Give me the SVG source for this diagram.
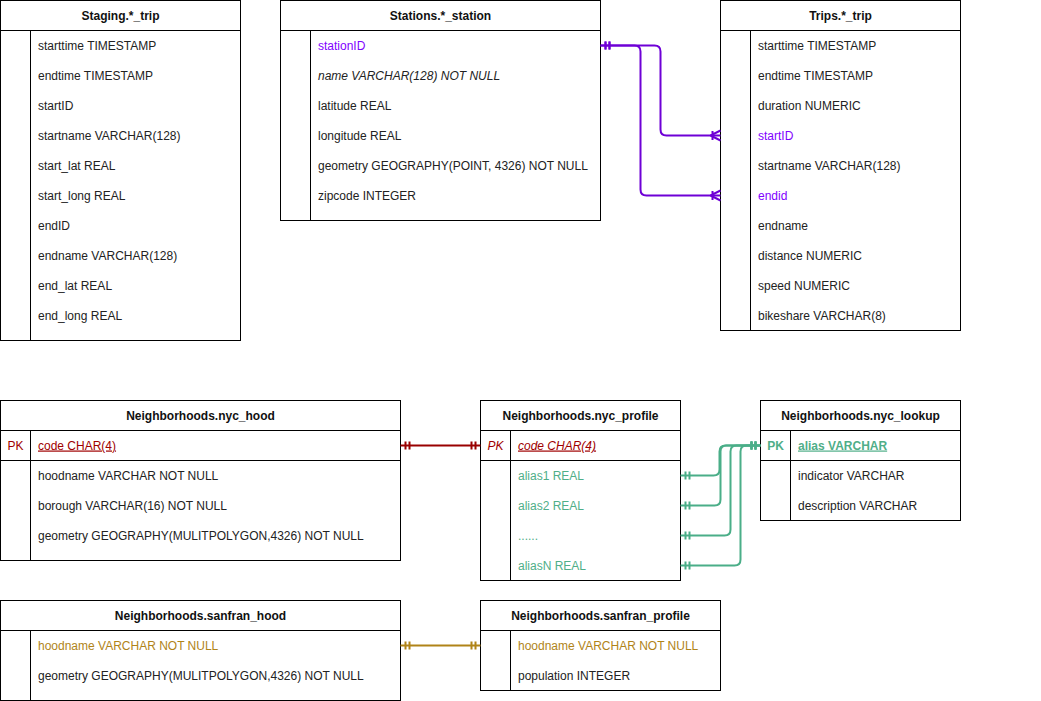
<svg xmlns="http://www.w3.org/2000/svg" width="1041" height="701" viewBox="0 0 1041 701">
<style>
.box{fill:#fff;stroke:#000;stroke-width:1}
.ln{stroke:#000;stroke-width:1;fill:none}
text{font-family:"Liberation Sans",Arial,sans-serif;font-size:12px;fill:#222}
.h{font-weight:bold;text-anchor:middle;fill:#111}
.it{font-style:italic}
.u{text-decoration:underline}
.b{font-weight:bold}
.c{text-anchor:middle}
.pu{fill:#7F00FF}
.rd{fill:#A00000}
.gr{fill:#4FAE88}
.gd{fill:#B08418}
.con{fill:none;stroke-width:2}
</style>
<defs>
<marker id="oneP" markerUnits="userSpaceOnUse" viewBox="-12 -6 14 12" refX="0" refY="0" markerWidth="14" markerHeight="12" orient="auto-start-reverse" overflow="visible"><path d="M-5,-4V4M-9,-4V4" stroke="#6E00D6" stroke-width="2" fill="none"/></marker>
<marker id="manyP" markerUnits="userSpaceOnUse" viewBox="-12 -6 14 12" refX="0" refY="0" markerWidth="14" markerHeight="12" orient="auto" overflow="visible"><path d="M-8,-4.5V4.5M-10,0L0,-5M-10,0L0,5" stroke="#6E00D6" stroke-width="2" fill="none"/></marker>
<marker id="oneR" markerUnits="userSpaceOnUse" viewBox="-12 -6 14 12" refX="0" refY="0" markerWidth="14" markerHeight="12" orient="auto-start-reverse" overflow="visible"><path d="M-5,-4V4M-9,-4V4" stroke="#990000" stroke-width="2" fill="none"/></marker>
<marker id="oneG" markerUnits="userSpaceOnUse" viewBox="-12 -6 14 12" refX="0" refY="0" markerWidth="14" markerHeight="12" orient="auto-start-reverse" overflow="visible"><path d="M-5,-4V4M-9,-4V4" stroke="#4AAE88" stroke-width="2" fill="none"/></marker>
<marker id="oneY" markerUnits="userSpaceOnUse" viewBox="-12 -6 14 12" refX="0" refY="0" markerWidth="14" markerHeight="12" orient="auto-start-reverse" overflow="visible"><path d="M-5,-4V4M-9,-4V4" stroke="#B08418" stroke-width="2" fill="none"/></marker>
</defs>
<rect width="1041" height="701" fill="#fff"/>

<g id="staging">
<rect class="box" x="0.5" y="0.5" width="240" height="340"/>
<path class="ln" d="M0.5,30.5H240.5M30.5,30.5V340.5"/>
<text class="h" x="120.5" y="19.5">Staging.*_trip</text>
<text x="38" y="49.5">starttime TIMESTAMP</text>
<text x="38" y="79.5">endtime TIMESTAMP</text>
<text x="38" y="109.5">startID</text>
<text x="38" y="139.5">startname VARCHAR(128)</text>
<text x="38" y="169.5">start_lat REAL</text>
<text x="38" y="199.5">start_long REAL</text>
<text x="38" y="229.5">endID</text>
<text x="38" y="259.5">endname VARCHAR(128)</text>
<text x="38" y="289.5">end_lat REAL</text>
<text x="38" y="319.5">end_long REAL</text>
</g>

<g id="stations">
<rect class="box" x="280.5" y="0.5" width="320" height="220"/>
<path class="ln" d="M280.5,30.5H600.5M310.5,30.5V220.5"/>
<text class="h" x="440.5" y="19.5">Stations.*_station</text>
<text class="pu" x="318" y="49.5">stationID</text>
<text class="it" x="318" y="79.5">name VARCHAR(128) NOT NULL</text>
<text x="318" y="109.5">latitude REAL</text>
<text x="318" y="139.5">longitude REAL</text>
<text x="318" y="169.5">geometry GEOGRAPHY(POINT, 4326) NOT NULL</text>
<text x="318" y="199.5">zipcode INTEGER</text>
</g>

<g id="trips">
<rect class="box" x="720.5" y="0.5" width="240" height="330"/>
<path class="ln" d="M720.5,30.5H960.5M750.5,30.5V330.5"/>
<text class="h" x="840.5" y="19.5">Trips.*_trip</text>
<text x="758" y="49.5">starttime TIMESTAMP</text>
<text x="758" y="79.5">endtime TIMESTAMP</text>
<text x="758" y="109.5">duration NUMERIC</text>
<text class="pu" x="758" y="139.5">startID</text>
<text x="758" y="169.5">startname VARCHAR(128)</text>
<text class="pu" x="758" y="199.5">endid</text>
<text x="758" y="229.5">endname</text>
<text x="758" y="259.5">distance NUMERIC</text>
<text x="758" y="289.5">speed NUMERIC</text>
<text x="758" y="319.5">bikeshare VARCHAR(8)</text>
</g>

<g id="nyc_hood">
<rect class="box" x="0.5" y="400.5" width="400" height="160"/>
<path class="ln" d="M0.5,430.5H400.5M0.5,460.5H400.5M30.5,430.5V560.5"/>
<text class="h" x="200.5" y="419.5">Neighborhoods.nyc_hood</text>
<text class="rd c" x="15.5" y="449.5">PK</text>
<text class="rd u" x="38" y="449.5">code CHAR(4)</text>
<text x="38" y="479.5">hoodname VARCHAR NOT NULL</text>
<text x="38" y="509.5">borough VARCHAR(16) NOT NULL</text>
<text x="38" y="539.5">geometry GEOGRAPHY(MULITPOLYGON,4326) NOT NULL</text>
</g>

<g id="nyc_profile">
<rect class="box" x="480.5" y="400.5" width="200" height="180"/>
<path class="ln" d="M480.5,430.5H680.5M480.5,460.5H680.5M510.5,430.5V580.5"/>
<text class="h" x="580.5" y="419.5">Neighborhoods.nyc_profile</text>
<text class="rd it c" x="495.5" y="449.5">PK</text>
<text class="rd it u" x="518" y="449.5">code CHAR(4)</text>
<text class="gr" x="518" y="479.5">alias1 REAL</text>
<text class="gr" x="518" y="509.5">alias2 REAL</text>
<text class="gr" x="518" y="539.5">......</text>
<text class="gr" x="518" y="569.5">aliasN REAL</text>
</g>

<g id="nyc_lookup">
<rect class="box" x="760.5" y="400.5" width="200" height="120"/>
<path class="ln" d="M760.5,430.5H960.5M760.5,460.5H960.5M790.5,430.5V520.5"/>
<text class="h" x="860.5" y="419.5">Neighborhoods.nyc_lookup</text>
<text class="gr b c" x="775.5" y="449.5">PK</text>
<text class="gr b u" x="798" y="449.5">alias VARCHAR</text>
<text x="798" y="479.5">indicator VARCHAR</text>
<text x="798" y="509.5">description VARCHAR</text>
</g>

<g id="sanfran_hood">
<rect class="box" x="0.5" y="600.5" width="400" height="100"/>
<path class="ln" d="M0.5,630.5H400.5M30.5,630.5V700.5"/>
<text class="h" x="200.5" y="619.5">Neighborhoods.sanfran_hood</text>
<text class="gd" x="38" y="649.5">hoodname VARCHAR NOT NULL</text>
<text x="38" y="679.5">geometry GEOGRAPHY(MULITPOLYGON,4326) NOT NULL</text>
</g>

<g id="sanfran_profile">
<rect class="box" x="480.5" y="600.5" width="240" height="90"/>
<path class="ln" d="M480.5,630.5H720.5M510.5,630.5V690.5"/>
<text class="h" x="600.5" y="619.5">Neighborhoods.sanfran_profile</text>
<text class="gd" x="518" y="649.5">hoodname VARCHAR NOT NULL</text>
<text x="518" y="679.5">population INTEGER</text>
</g>

<g id="connectors">
<path class="con" stroke="#6E00D6" marker-start="url(#oneP)" marker-end="url(#manyP)" d="M600.5,45.5H654.5Q660.5,45.5 660.5,51.5V129.5Q660.5,135.5 666.5,135.5H720.5"/>
<path class="con" stroke="#6E00D6" marker-start="url(#oneP)" marker-end="url(#manyP)" d="M600.5,45.5H634.5Q640.5,45.5 640.5,51.5V189.5Q640.5,195.5 646.5,195.5H720.5"/>
<path class="con" stroke="#990000" marker-start="url(#oneR)" marker-end="url(#oneR)" d="M400.5,445.5H480.5"/>
<path class="con" stroke="#4AAE88" marker-start="url(#oneG)" marker-end="url(#oneG)" d="M680.5,475.5H713.5Q719.5,475.5 719.5,469.5V451.5Q719.5,445.5 725.5,445.5H760.5"/>
<path class="con" stroke="#4AAE88" marker-start="url(#oneG)" marker-end="url(#oneG)" d="M680.5,505.5H714.5Q720.5,505.5 720.5,499.5V451.5Q720.5,445.5 726.5,445.5H760.5"/>
<path class="con" stroke="#4AAE88" marker-start="url(#oneG)" marker-end="url(#oneG)" d="M680.5,535.5H724.5Q730.5,535.5 730.5,529.5V451.5Q730.5,445.5 736.5,445.5H760.5"/>
<path class="con" stroke="#4AAE88" marker-start="url(#oneG)" marker-end="url(#oneG)" d="M680.5,565.5H734.5Q740.5,565.5 740.5,559.5V451.5Q740.5,445.5 746.5,445.5H760.5"/>
<path class="con" stroke="#B08418" marker-start="url(#oneY)" marker-end="url(#oneY)" d="M400.5,645.5H480.5"/>
</g>
</svg>
